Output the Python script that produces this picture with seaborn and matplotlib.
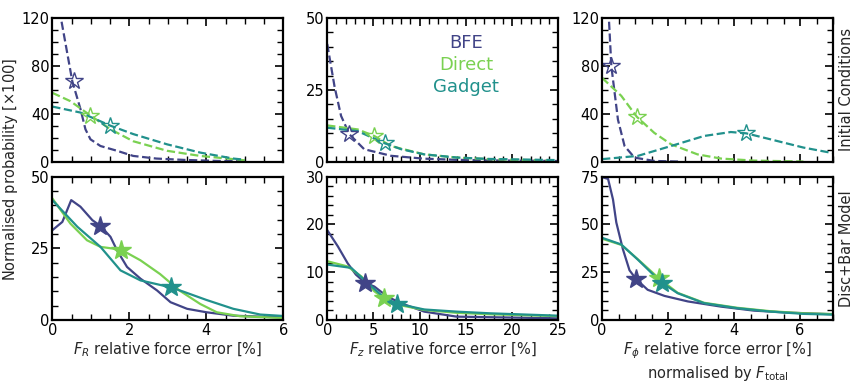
import numpy as np
import pandas as pd
import matplotlib
matplotlib.use("Agg")
import matplotlib.pyplot as plt
from matplotlib.ticker import MultipleLocator
import seaborn as sns

# ----------------------------
# Data
# ----------------------------
codes = ["BFE", "Direct", "Gadget"]
colours = {"BFE": "#414487", "Direct": "#7ad151", "Gadget": "#21918c"}

# Initial conditions, F_R
ic_fr_bfe_x = [0.24, 0.52, 0.73, 0.86, 0.99, 1.25, 1.68, 2.1, 2.7, 3.4, 4.3, 5.0]
ic_fr_bfe_y = [117, 67, 44, 27, 18.6, 13, 9, 4.7, 2.5, 1.4, 0.5, 0.3]
ic_fr_dir_x = [0.0, 0.47, 0.95, 1.51, 2.1, 2.98, 3.84, 4.7, 5.0]
ic_fr_dir_y = [57.5, 50.5, 39.4, 27, 17, 9, 4.7, 2, 1]
ic_fr_gad_x = [0.0, 0.73, 1.51, 2.1, 2.98, 3.84, 4.7, 5.0]
ic_fr_gad_y = [46, 41, 30, 23, 14.4, 7.5, 2.5, 1.5]

# Initial conditions, F_z
ic_fz_bfe_x = [0.0, 0.8, 1.5, 2.4, 4.0, 6.9, 10.5, 14, 18, 25]
ic_fz_bfe_y = [41, 26, 15.9, 9.5, 4.3, 2, 1, 0.6, 0.4, 0.2]
ic_fz_dir_x = [0.0, 3.3, 5.1, 6.9, 10.5, 14, 17.6, 25]
ic_fz_dir_y = [12.6, 11.2, 8.9, 5.4, 2.5, 1.4, 0.8, 0.3]
ic_fz_gad_x = [0.0, 3.3, 6.2, 8.0, 10.5, 14, 17.6, 25]
ic_fz_gad_y = [11.8, 10.6, 6.4, 4.3, 2.5, 1.4, 0.9, 0.5]

# Initial conditions, F_phi
ic_fp_bfe_x = [0.21, 0.28, 0.48, 0.68, 0.98, 1.58, 2.3]
ic_fp_bfe_y = [117, 79.7, 35, 13, 3.3, 0.5, 0.0]
ic_fp_dir_x = [0.0, 0.58, 1.05, 1.58, 2.09, 2.89, 3.6, 4.6, 6.1]
ic_fp_dir_y = [70, 55, 37.5, 24, 14.4, 6, 2.5, 0.8, 0.0]
ic_fp_gad_x = [0.0, 1.08, 2.09, 3.09, 3.9, 4.37, 5.1, 6.1, 7.0]
ic_fp_gad_y = [2, 4.7, 13, 21.4, 24.7, 23.6, 18.6, 11.7, 7]

# Disc+bar model, F_R
db_fr_bfe_x = [0.0, 0.26, 0.49, 0.73, 1.04, 1.25, 1.51, 1.68, 1.94, 2.29, 2.72, 3.07, 3.5, 4.0, 4.7, 6.0]
db_fr_bfe_y = [31.3, 34.2, 41.8, 39.5, 34.8, 32.8, 29, 24.3, 18.5, 14.4, 10.3, 6.2, 3.9, 2.7, 1.5, 0.9]
db_fr_dir_x = [0.0, 0.47, 0.9, 1.25, 1.79, 2.29, 2.8, 3.3, 3.84, 4.27, 4.88, 6.0]
db_fr_dir_y = [42.4, 33.6, 27.8, 25.5, 24.5, 20.8, 16, 10.3, 5.6, 2.7, 1.3, 0.7]
db_fr_gad_x = [0.0, 0.65, 1.25, 1.77, 2.29, 3.07, 3.4, 4.0, 4.7, 5.4, 6.0]
db_fr_gad_y = [41.8, 32.5, 25.5, 17.3, 13.8, 11.4, 9.9, 7, 3.9, 1.9, 1.4]

# Disc+bar model, F_z
db_fz_bfe_x = [0.0, 1.15, 2.2, 3.1, 4.1, 5.1, 6.5, 8.0, 10.5, 14, 25]
db_fz_bfe_y = [18.8, 15.4, 11.9, 9.5, 7.8, 7, 4.9, 3.5, 1.75, 0.7, 0.35]
db_fz_dir_x = [0.0, 2.2, 3.7, 5.1, 6.1, 7.6, 10.5, 14, 17.6, 25]
db_fz_dir_y = [12.3, 11.2, 9.1, 6, 4.6, 3.2, 2.1, 1.5, 1.2, 0.8]
db_fz_gad_x = [0.0, 2.6, 4.4, 6.2, 7.6, 10.5, 14, 17.6, 25]
db_fz_gad_y = [11.6, 10.9, 7.7, 4.6, 3.4, 2.2, 1.75, 1.4, 0.9]

# Disc+bar model, F_phi
db_fp_bfe_x = [0.0, 0.18, 0.33, 0.43, 0.63, 0.83, 1.03, 1.38, 1.89, 2.6, 3.6, 4.6, 5.6, 7.0]
db_fp_bfe_y = [74.7, 73.8, 63, 51, 37, 26, 21.4, 15.8, 12.6, 9.7, 7, 4.9, 3.9, 3]
db_fp_dir_x = [0.0, 0.58, 1.08, 1.72, 2.29, 3.09, 4.09, 5.1, 6.1, 7.0]
db_fp_dir_y = [42.5, 39.3, 31.8, 21.8, 14.2, 9.0, 6.4, 4.6, 3.5, 3.1]
db_fp_gad_x = [0.0, 0.58, 1.08, 1.79, 2.29, 3.09, 4.09, 5.1, 6.1, 7.0]
db_fp_gad_y = [43, 39.5, 31.6, 19.7, 14, 8.8, 6.2, 4.4, 3.2, 2.8]

# Star markers (median values)
ic_fr_star = {"BFE": (0.55, 67), "Direct": (0.97, 38), "Gadget": (1.5, 30)}
ic_fz_star = {"BFE": (2.4, 9.5), "Direct": (5.1, 8.9), "Gadget": (6.2, 6.4)}
ic_fp_star = {"BFE": (0.28, 79.7), "Direct": (1.05, 37.5), "Gadget": (4.37, 23.6)}
db_fr_star = {"BFE": (1.25, 32.8), "Direct": (1.79, 24.5), "Gadget": (3.07, 11.4)}
db_fz_star = {"BFE": (4.1, 7.8), "Direct": (6.1, 4.6), "Gadget": (7.6, 3.4)}
db_fp_star = {"BFE": (1.03, 21.4), "Direct": (1.72, 21.8), "Gadget": (1.82, 19.5)}

xlabels = [r"$F_R$ relative force error [%]",
           r"$F_z$ relative force error [%]",
           "$F_\\phi$ relative force error [%]\nnormalised by $F_{\\rm total}$"]
row_labels = ["Initial Conditions", "Disc+Bar Model"]


def make_df(xs, ys):
    frames = []
    for code, x, y in zip(codes, xs, ys):
        frames.append(pd.DataFrame({"x": x, "y": y, "code": code}))
    return pd.concat(frames, ignore_index=True)


panels = [
    [make_df([ic_fr_bfe_x, ic_fr_dir_x, ic_fr_gad_x], [ic_fr_bfe_y, ic_fr_dir_y, ic_fr_gad_y]),
     make_df([ic_fz_bfe_x, ic_fz_dir_x, ic_fz_gad_x], [ic_fz_bfe_y, ic_fz_dir_y, ic_fz_gad_y]),
     make_df([ic_fp_bfe_x, ic_fp_dir_x, ic_fp_gad_x], [ic_fp_bfe_y, ic_fp_dir_y, ic_fp_gad_y])],
    [make_df([db_fr_bfe_x, db_fr_dir_x, db_fr_gad_x], [db_fr_bfe_y, db_fr_dir_y, db_fr_gad_y]),
     make_df([db_fz_bfe_x, db_fz_dir_x, db_fz_gad_x], [db_fz_bfe_y, db_fz_dir_y, db_fz_gad_y]),
     make_df([db_fp_bfe_x, db_fp_dir_x, db_fp_gad_x], [db_fp_bfe_y, db_fp_dir_y, db_fp_gad_y])],
]
stars = [[ic_fr_star, ic_fz_star, ic_fp_star], [db_fr_star, db_fz_star, db_fp_star]]

# axis settings: (xmax, xmajor, xminor), (ymax, ymajor, yminor)
xset = [(6, 2, 0.5), (25, 5, 1), (7, 2, 0.5)]
yset = [[(120, 40, 10), (50, 25, 5), (120, 40, 10)],
        [(50, 25, 5), (30, 10, 2), (75, 25, 5)]]

# ----------------------------
# Plot
# ----------------------------
sns.set_style("ticks")
plt.rcParams["font.family"] = ["DejaVu Sans"]
plt.rcParams["mathtext.fontset"] = "dejavusans"

fig, axes = plt.subplots(2, 3, figsize=(8.58, 3.86), dpi=100)
fig.subplots_adjust(left=0.061, right=0.971, top=0.953, bottom=0.171,
                    wspace=0.19, hspace=0.105)

for r in range(2):
    for c in range(3):
        ax = axes[r, c]
        df = panels[r][c]
        sns.lineplot(data=df, x="x", y="y", hue="code", palette=colours,
                     hue_order=codes, linestyle="--" if r == 0 else "-",
                     linewidth=1.6, legend=False, ax=ax, sort=False)
        for code in codes:
            sx, sy = stars[r][c][code]
            if r == 0:
                ax.plot(sx, sy, marker="*", markersize=13, markerfacecolor="none",
                        markeredgecolor=colours[code], markeredgewidth=1.0,
                        linestyle="none")
            else:
                ax.plot(sx, sy, marker="*", markersize=15, color=colours[code],
                        linestyle="none")
        xmax, xmaj, xmin = xset[c]
        ymax, ymaj, ymin = yset[r][c]
        ax.set_xlim(0, xmax)
        ax.set_ylim(0, ymax)
        ax.xaxis.set_major_locator(MultipleLocator(xmaj))
        ax.xaxis.set_minor_locator(MultipleLocator(xmin))
        ax.yaxis.set_major_locator(MultipleLocator(ymaj))
        ax.yaxis.set_minor_locator(MultipleLocator(ymin))
        ax.tick_params(which="both", direction="in", top=True, right=True,
                       labelsize=10.5, colors="black", pad=2)
        ax.tick_params(which="major", length=6, width=1.2)
        ax.tick_params(which="minor", length=4, width=1.0)
        for sp in ax.spines.values():
            sp.set_linewidth(1.6)
            sp.set_color("black")
        ax.set_ylabel("")
        if r == 0:
            ax.set_xlabel("")
            ax.tick_params(labelbottom=False)
        else:
            ax.set_xlabel(xlabels[c], fontsize=10.5, labelpad=2)
        if c == 2:
            ax.yaxis.set_label_position("right")
            ax.set_ylabel(row_labels[r], fontsize=10.5, labelpad=4)

# coloured legend text in the top-middle panel
for i, code in enumerate(codes):
    axes[0, 1].text(0.6, 0.83 - 0.155 * i, code, color=colours[code],
                    fontsize=13, ha="center", va="center",
                    transform=axes[0, 1].transAxes)

fig.text(0.012, 0.562, r"Normalised probability [$\times$100]", rotation=90,
         ha="center", va="center", fontsize=10.5)

plt.savefig("out.png", dpi=100)
plt.close()
